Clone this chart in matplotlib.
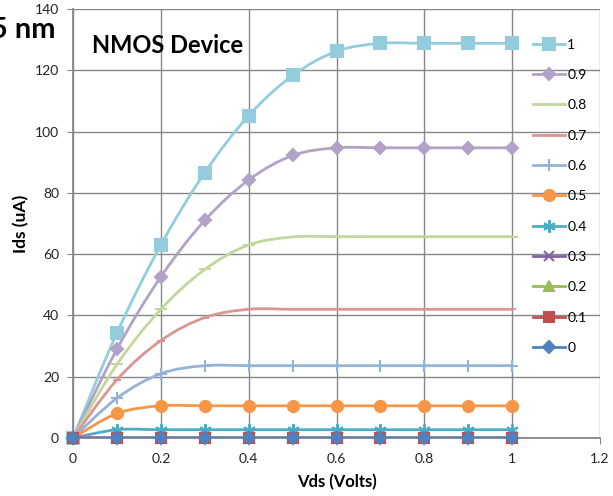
import matplotlib
matplotlib.use("Agg")
import matplotlib.pyplot as plt
from matplotlib.path import Path
from matplotlib.patches import PathPatch
from matplotlib.lines import Line2D

plt.rcParams['font.family'] = ['Lato', 'DejaVu Sans']

# Vds sweep (Volts)
vds = [0, 0.1, 0.2, 0.3, 0.4, 0.5, 0.6, 0.7, 0.8, 0.9, 1.0]

# Ids (uA) for each gate voltage
ids_1_0 = [0, 34.3, 63.0, 86.6, 105.2, 118.3, 126.2, 128.8, 128.8, 128.8, 128.8]
ids_0_9 = [0, 29.0, 52.6, 71.0, 84.2, 92.2, 94.7, 94.7, 94.7, 94.7, 94.7]
ids_0_8 = [0, 24.0, 42.0, 55.0, 63.0, 65.6, 65.7, 65.7, 65.7, 65.7, 65.7]
ids_0_7 = [0, 19.0, 31.8, 39.3, 42.0, 42.0, 42.0, 42.0, 42.0, 42.0, 42.0]
ids_0_6 = [0, 13.0, 21.0, 23.6, 23.6, 23.6, 23.6, 23.6, 23.6, 23.6, 23.6]
ids_0_5 = [0, 8.0, 10.5, 10.5, 10.5, 10.5, 10.5, 10.5, 10.5, 10.5, 10.5]
ids_0_4 = [0, 2.7, 2.7, 2.7, 2.7, 2.7, 2.7, 2.7, 2.7, 2.7, 2.7]
ids_0_3 = [0, 0, 0, 0, 0, 0, 0, 0, 0, 0, 0]
ids_0_2 = [0, 0, 0, 0, 0, 0, 0, 0, 0, 0, 0]
ids_0_1 = [0, 0, 0, 0, 0, 0, 0, 0, 0, 0, 0]
ids_0_0 = [0, 0, 0, 0, 0, 0, 0, 0, 0, 0, 0]

labels = ["1", "0.9", "0.8", "0.7", "0.6", "0.5", "0.4", "0.3", "0.2", "0.1", "0"]
series = [ids_1_0, ids_0_9, ids_0_8, ids_0_7, ids_0_6, ids_0_5,
          ids_0_4, ids_0_3, ids_0_2, ids_0_1, ids_0_0]

# style per series: colour, marker, marker size
styles = [
    ("#93CDDD", "s", 8),
    ("#B3A2C7", "D", 6),
    ("#C3D69B", "_", 9),
    ("#D99694", "_", 6),
    ("#95B3D7", "+", 9),
    ("#F79646", "o", 8),
    ("#4BACC6", (6, 2, 0), 9),
    ("#8064A2", "x", 7),
    ("#9BBB59", "^", 7),
    ("#C0504D", "s", 7),
    ("#4F81BD", "D", 6),
]


def smooth_path(xs, ys):
    # Excel style smoothed line: cubic bezier through the points
    n = len(xs)
    verts = [(xs[0], ys[0])]
    codes = [Path.MOVETO]
    for i in range(n - 1):
        i0 = max(i - 1, 0)
        i3 = min(i + 2, n - 1)
        c1 = (xs[i] + (xs[i + 1] - xs[i0]) / 6, ys[i] + (ys[i + 1] - ys[i0]) / 6)
        c2 = (xs[i + 1] - (xs[i3] - xs[i]) / 6, ys[i + 1] - (ys[i3] - ys[i]) / 6)
        verts += [c1, c2, (xs[i + 1], ys[i + 1])]
        codes += [Path.CURVE4] * 3
    return Path(verts, codes)


fig = plt.figure(figsize=(6.13, 4.96), dpi=100)
ax = fig.add_axes([73 / 613, 1 - 438 / 496, 527 / 613, 429 / 496])

grid_col = "#878787"
handles = []
for k, (lab, ys) in enumerate(zip(labels, series)):
    col, mk, ms = styles[k]
    z = 3 + k * 0.1
    ax.add_patch(PathPatch(smooth_path(vds, ys), fill=False, edgecolor=col,
                           lw=2.0, zorder=z, capstyle="round"))
    ax.plot(vds, ys, linestyle="none", marker=mk, color=col, ms=ms,
            mew=1.5, zorder=z + 0.05, clip_on=False)
    handles.append(Line2D([], [], color=col, lw=2.0, marker=mk, ms=ms, mew=1.5))

ax.set_xlim(0, 1.2)
ax.set_ylim(0, 140)
ax.set_xticks([0, 0.2, 0.4, 0.6, 0.8, 1.0, 1.2])
ax.set_xticklabels(["0", "0.2", "0.4", "0.6", "0.8", "1", "1.2"])
ax.set_yticks(range(0, 141, 20))
ax.grid(True, color=grid_col, lw=1.0)
ax.set_axisbelow(True)
for s in ["top", "right"]:
    ax.spines[s].set_visible(False)
for s in ["left", "bottom"]:
    ax.spines[s].set_color(grid_col)
    ax.spines[s].set_linewidth(1.3)
ax.tick_params(direction="out", length=4, color=grid_col, labelsize=10,
               labelcolor="#222222")
ax.tick_params(axis="y", pad=6)
ax.tick_params(axis="x", pad=7)

ax.set_xlabel("Vds (Volts)", fontsize=12, fontweight="bold", labelpad=6)
ax.set_ylabel("Ids (uA)", fontsize=12.5, fontweight="bold", labelpad=4)

ax.text(0.036, 0.914, "NMOS Device", transform=ax.transAxes, fontsize=17,
        fontweight="bold", va="center", ha="left")
fig.text(55 / 613, 1 - 38 / 496, "45 nm", fontsize=21, fontweight="bold",
         ha="right", va="baseline")

fig.legend(handles, labels, loc="upper left",
           bbox_to_anchor=(527 / 613, 1 - 33 / 496), frameon=False,
           fontsize=10, handlelength=2.3, handletextpad=0.2,
           labelspacing=1.32, borderaxespad=0)

fig.savefig("out.png", dpi=100)
